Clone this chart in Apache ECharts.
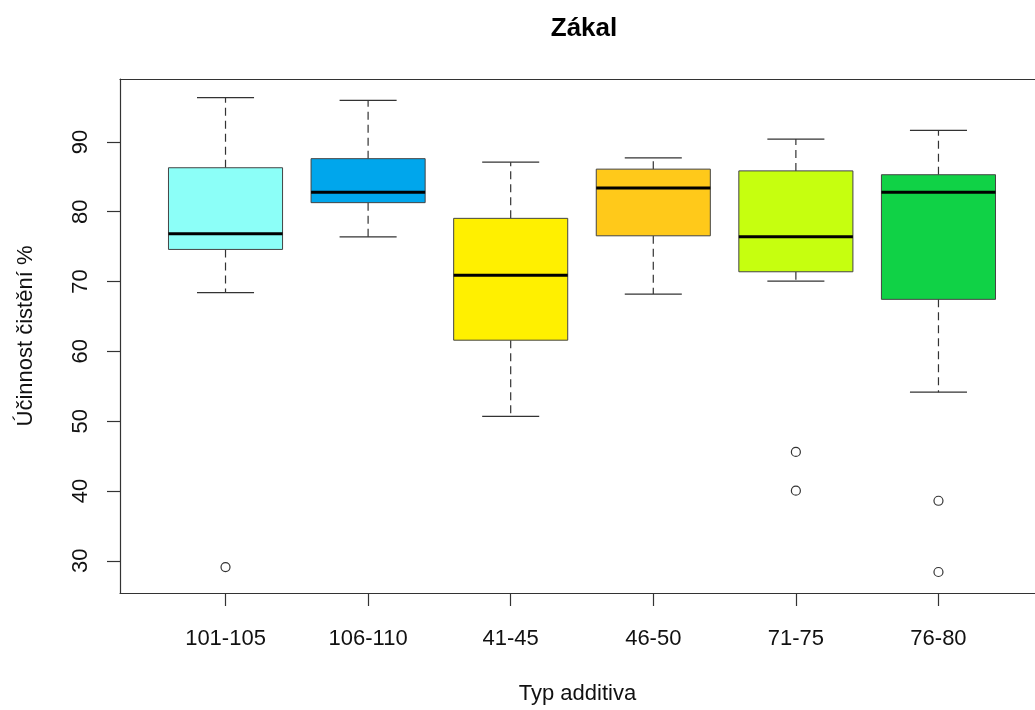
<!DOCTYPE html>
<html>
<head>
<meta charset="utf-8">
<script src="https://cdn.jsdelivr.net/npm/echarts@6.0.0/dist/echarts.min.js"></script>
<style>
html,body{margin:0;padding:0;background:#fff;overflow:hidden;}
#chart{width:1035px;height:710px;}
</style>
</head>
<body>
<div id="chart"></div>
<script>
// ---- data ----
const categories    = ['101-105', '106-110', '41-45', '46-50', '71-75', '76-80'];
const lowerWhisker  = [68.4, 76.4, 50.7, 68.2, 70.05, 54.15];
const lowerQuartile = [74.6, 81.3, 61.6, 76.55, 71.4, 67.45];
const medians       = [76.85, 82.8, 70.9, 83.4, 76.4, 82.8];
const upperQuartile = [86.3, 87.6, 79.05, 86.1, 85.85, 85.3];
const upperWhisker  = [96.35, 95.95, 87.1, 87.7, 90.4, 91.65];
const boxColors     = ['#8CFFF8', '#00A6EC', '#FFF000', '#FFC91A', '#C6FF0F', '#10D246'];
const outlierGroup  = ['101-105', '71-75', '71-75', '76-80', '76-80'];
const outlierValues = [29.1, 45.6, 40.05, 38.6, 28.4];
const yTickValues   = [30, 40, 50, 60, 70, 80, 90];
const yRange        = [25.39, 99.01];
const xRange        = [0.26, 6.677];   // plot continues past the right edge of the picture

const positions = categories.map((c, i) => i + 1);
const boxData = categories.map((c, i) => [positions[i], lowerWhisker[i], lowerQuartile[i], medians[i], upperQuartile[i], upperWhisker[i]]);
const outlierData = outlierGroup.map((g, i) => [categories.indexOf(g) + 1, outlierValues[i]]);

const chart = echarts.init(document.getElementById('chart'), null, {renderer: 'canvas'});
const FONT = '"Liberation Sans", Arial, sans-serif';
const BOX_HALF = 0.4, CAP_HALF = 0.2;
const AXIS_COLOR = '#333';

function renderBox(params, api) {
  const x = api.value(0);
  const lo = api.value(1), q1 = api.value(2), md = api.value(3), q3 = api.value(4), hi = api.value(5);
  const idx = params.dataIndex;
  const p = (xx, yy) => api.coord([xx, yy]);
  const lineStyle = {stroke: '#333', lineWidth: 1.2};
  const dashStyle = {stroke: '#333', lineWidth: 1.2, lineDash: [8, 5]};
  const tl = p(x - BOX_HALF, q3), br = p(x + BOX_HALF, q1);
  const children = [
    {type: 'line', shape: {x1: p(x, q3)[0], y1: p(x, q3)[1], x2: p(x, hi)[0], y2: p(x, hi)[1]}, style: dashStyle},
    {type: 'line', shape: {x1: p(x, q1)[0], y1: p(x, q1)[1], x2: p(x, lo)[0], y2: p(x, lo)[1]}, style: dashStyle},
    {type: 'line', shape: {x1: p(x - CAP_HALF, hi)[0], y1: p(x, hi)[1], x2: p(x + CAP_HALF, hi)[0], y2: p(x, hi)[1]}, style: lineStyle},
    {type: 'line', shape: {x1: p(x - CAP_HALF, lo)[0], y1: p(x, lo)[1], x2: p(x + CAP_HALF, lo)[0], y2: p(x, lo)[1]}, style: lineStyle},
    {type: 'rect', shape: {x: tl[0], y: tl[1], width: br[0] - tl[0], height: br[1] - tl[1]},
      style: {fill: boxColors[idx], stroke: '#444', lineWidth: 1}},
    {type: 'line', shape: {x1: tl[0], y1: p(x, md)[1], x2: br[0], y2: p(x, md)[1]}, style: {stroke: '#000', lineWidth: 3}}
  ];
  return {type: 'group', children};
}

const option = {
  animation: false,
  backgroundColor: '#fff',
  title: {
    text: 'Zákal',
    left: 579, top: 11, textAlign: 'center',
    textStyle: {fontFamily: FONT, fontSize: 26, fontWeight: 'bold', color: '#000'}
  },
  grid: {left: 120, top: 79, right: 0, bottom: 111, show: false},
  xAxis: [{
    type: 'value', min: xRange[0], max: xRange[1], position: 'bottom',
    name: 'Typ additiva', nameLocation: 'middle', nameGap: 90,
    nameTextStyle: {fontFamily: FONT, fontSize: 22, color: '#111'},
    axisLine: {show: true, onZero: false, lineStyle: {color: AXIS_COLOR, width: 1.2}},
    splitLine: {show: false},
    axisTick: {show: true, length: 13, lineStyle: {color: AXIS_COLOR, width: 1.2}, customValues: positions},
    axisLabel: {customValues: positions, margin: 35, fontFamily: FONT, fontSize: 22, color: '#111',
      formatter: v => categories[Math.round(v) - 1]}
  }, {
    type: 'value', min: xRange[0], max: xRange[1], position: 'top',
    axisLine: {show: true, onZero: false, lineStyle: {color: AXIS_COLOR, width: 1.2}},
    splitLine: {show: false}, axisTick: {show: false}, axisLabel: {show: false}
  }],
  yAxis: {
    type: 'value', min: yRange[0], max: yRange[1],
    name: 'Účinnost čistění %', nameLocation: 'middle', nameGap: 83, nameRotate: 90,
    nameTextStyle: {fontFamily: FONT, fontSize: 22, color: '#111'},
    axisLine: {show: true, onZero: false, lineStyle: {color: AXIS_COLOR, width: 1.2}},
    splitLine: {show: false},
    axisTick: {show: true, length: 13, lineStyle: {color: AXIS_COLOR, width: 1.2}, customValues: yTickValues},
    axisLabel: {customValues: yTickValues, rotate: 90, margin: 28, fontFamily: FONT, fontSize: 22, color: '#111'}
  },
  series: [
    {type: 'custom', renderItem: renderBox, data: boxData, encode: {x: 0, y: [1, 2, 3, 4, 5]}, clip: false, z: 2},
    {type: 'scatter', data: outlierData, symbol: 'circle', symbolSize: 9,
      itemStyle: {color: '#fff', borderColor: '#000', borderWidth: 1.2}, z: 3}
  ]
};
chart.setOption(option);
</script>
</body>
</html>
